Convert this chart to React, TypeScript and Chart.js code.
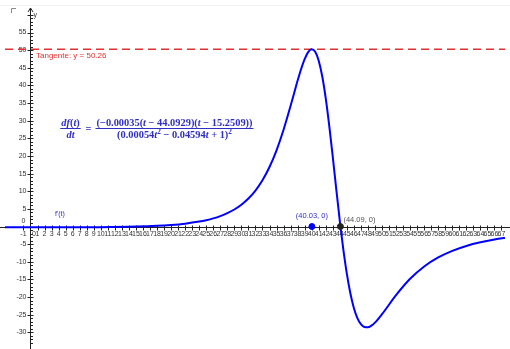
import React, { useEffect, useRef } from "react";
import { Chart, registerables } from "chart.js";

Chart.register(...registerables);

// ---- data ----
const tValues = [
  -4, 0, 5, 10, 15, 18, 20, 22, 24, 25, 26, 27, 28, 29, 30, 31, 32, 33, 34, 35, 36, 37, 37.5, 38, 38.5,
  39, 39.5, 40, 40.5, 41, 41.5, 42, 42.5, 43, 43.5, 44, 44.09, 44.5, 45, 45.5, 46, 46.5, 47, 47.5, 48,
  48.5, 49, 50, 52, 54, 56, 58, 60, 62, 64, 66, 68,
];
const derivValues = [
  -0.22, -0.23, -0.22, -0.17, -0.01, 0.2, 0.45, 0.82, 1.4, 1.8, 2.31, 2.96, 3.78, 4.83, 6.18, 7.93,
  10.2, 13.12, 16.87, 21.61, 27.44, 34.22, 37.81, 41.37, 44.67, 47.48, 49.46, 50.26, 49.54, 47.02,
  42.6, 36.34, 28.56, 19.75, 10.55, 1.59, 0, -6.48, -13.37, -18.92, -23.08, -25.95, -27.68, -28.49,
  -28.56, -28.09, -27.24, -24.86, -19.46, -14.82, -11.31, -8.75, -6.88, -5.5, -4.47, -3.69, -3.08,
];
const tangentY = 50.26;
const tangentLabel = "Tangente: y = 50.26";
const curveLabel = "f'(t)";
const pointXs = [40.03, 44.09];
const pointYs = [0, 0];
const pointLabels = ["(40.03, 0)", "(44.09, 0)"];
const xTickValues = [
  -1, 0, 1, 2, 3, 4, 5, 6, 7, 8, 9, 10, 11, 12, 13, 14, 15, 16, 17, 18, 19, 20, 21, 22, 23, 24, 25, 26,
  27, 28, 29, 30, 31, 32, 33, 34, 35, 36, 37, 38, 39, 40, 41, 42, 43, 44, 45, 46, 47, 48, 49, 50, 51,
  52, 53, 54, 55, 56, 57, 58, 59, 60, 61, 62, 63, 64, 65, 66, 67,
];
const yTickValues = [-30, -25, -20, -15, -10, -5, 0, 5, 10, 15, 20, 25, 30, 35, 40, 45, 50, 55];
const xMin = -3.626;
const xMax = 67.5;
const yMin = -33.3;
const yMax = 62.8;

const BLUE = "#0000ff";
const TEXT_BLUE = "#2f2fc4";
const RED = "#e03232";
const TICK_FONT = "7px 'Liberation Sans', Arial, sans-serif";
const SERIF = "'Liberation Serif', 'DejaVu Serif', serif";

type Seg = [string, boolean, boolean?]; // text, italic, superscript

function segWidth(ctx: CanvasRenderingContext2D, segs: Seg[], size: number) {
  let w = 0;
  for (const [t, it, sup] of segs) {
    const s = sup ? size * 0.7 : size;
    ctx.font = `${it ? "italic " : ""}bold ${s}px ${SERIF}`;
    w += ctx.measureText(t).width;
  }
  return w;
}

function drawSegs(ctx: CanvasRenderingContext2D, segs: Seg[], cx: number, y: number, size: number) {
  const w = segWidth(ctx, segs, size);
  let x = cx - w / 2;
  ctx.textAlign = "left";
  ctx.textBaseline = "alphabetic";
  for (const [t, it, sup] of segs) {
    const s = sup ? size * 0.7 : size;
    ctx.font = `${it ? "italic " : ""}bold ${s}px ${SERIF}`;
    ctx.fillText(t, x, sup ? y - size * 0.4 : y);
    x += ctx.measureText(t).width;
  }
  return w;
}

const axesPlugin = {
  id: "ggbAxes",
  beforeDatasetsDraw(chart: any) {
    const { ctx, width, height } = chart;
    const xs = chart.scales.x;
    const ys = chart.scales.y;
    const x0 = Math.round(xs.getPixelForValue(0)) + 0.5;
    const y0 = Math.round(ys.getPixelForValue(0)) + 0.5;
    ctx.save();
    // faint frame line at top
    ctx.strokeStyle = "#f2f2f2";
    ctx.lineWidth = 1;
    ctx.beginPath();
    ctx.moveTo(0, 5.5);
    ctx.lineTo(width, 5.5);
    ctx.stroke();
    // corner mark
    ctx.strokeStyle = "#8a8a8a";
    ctx.beginPath();
    ctx.moveTo(11.5, 13);
    ctx.lineTo(11.5, 8.5);
    ctx.lineTo(16, 8.5);
    ctx.stroke();
    // axes lines
    ctx.strokeStyle = "#222";
    ctx.beginPath();
    ctx.moveTo(0, y0);
    ctx.lineTo(width, y0);
    ctx.moveTo(x0, 8);
    ctx.lineTo(x0, height);
    ctx.stroke();
    // arrow of y axis
    ctx.beginPath();
    ctx.moveTo(x0 - 2.5, 12);
    ctx.lineTo(x0, 8);
    ctx.lineTo(x0 + 2.5, 12);
    ctx.stroke();
    // y ticks (minor every 1)
    for (let v = Math.ceil(yMin); v <= 60; v++) {
      const py = Math.round(ys.getPixelForValue(v)) + 0.5;
      ctx.beginPath();
      if (v % 5 === 0) {
        ctx.moveTo(x0 - 3, py);
        ctx.lineTo(x0 + 3, py);
      } else {
        ctx.moveTo(x0, py);
        ctx.lineTo(x0 + 2.5, py);
      }
      ctx.stroke();
    }
    // x ticks
    for (const v of xTickValues) {
      const px = Math.round(xs.getPixelForValue(v)) + 0.5;
      ctx.beginPath();
      ctx.moveTo(px, y0 - 2);
      ctx.lineTo(px, y0 + 3);
      ctx.stroke();
    }
    // labels
    ctx.fillStyle = "#333";
    ctx.font = TICK_FONT;
    ctx.textAlign = "right";
    ctx.textBaseline = "middle";
    for (const v of yTickValues) {
      const py = ys.getPixelForValue(v);
      if (v === 0) ctx.fillText("0", x0 - 5, py - 5);
      else ctx.fillText(String(v), x0 - 4, py);
    }
    ctx.textBaseline = "top";
    for (const v of xTickValues) {
      const px = xs.getPixelForValue(v);
      if (v === 0) {
        ctx.textAlign = "left";
        ctx.fillText("0", px + 1.5, y0 + 3);
      } else {
        ctx.textAlign = "center";
        ctx.fillText(String(v), px, y0 + 3);
      }
    }
    // axis name
    ctx.textAlign = "left";
    ctx.textBaseline = "middle";
    ctx.fillText("y", x0 + 3, 15);
    ctx.restore();
  },
  afterDatasetsDraw(chart: any) {
    const { ctx } = chart;
    const xs = chart.scales.x;
    const ys = chart.scales.y;
    ctx.save();
    // tangent label
    ctx.fillStyle = RED;
    ctx.font = "8px 'Liberation Sans', Arial, sans-serif";
    ctx.textAlign = "left";
    ctx.textBaseline = "middle";
    ctx.fillText(tangentLabel, 36, ys.getPixelForValue(tangentY) + 7);
    // curve label
    ctx.fillStyle = TEXT_BLUE;
    ctx.font = "7px 'Liberation Sans', Arial, sans-serif";
    ctx.fillText(curveLabel, 55, 214);
    // point labels
    ctx.font = "7.5px 'Liberation Sans', Arial, sans-serif";
    ctx.textAlign = "center";
    ctx.fillText(pointLabels[0], xs.getPixelForValue(pointXs[0]), ys.getPixelForValue(pointYs[0]) - 11);
    ctx.fillStyle = "#555";
    ctx.textAlign = "left";
    ctx.fillText(pointLabels[1], xs.getPixelForValue(pointXs[1]) + 3, ys.getPixelForValue(pointYs[1]) - 7);
    // formula
    ctx.fillStyle = TEXT_BLUE;
    ctx.strokeStyle = TEXT_BLUE;
    const size = 10.4;
    const barY = 128.5;
    const lw = drawSegs(ctx, [["d", true], ["f", true], ["(", false], ["t", true], [")", false]], 70.5, barY - 3, size);
    drawSegs(ctx, [["d", true], ["t", true]], 70.5, barY + 9.5, size);
    ctx.lineWidth = 1;
    ctx.beginPath();
    ctx.moveTo(70.5 - lw / 2 - 1, barY);
    ctx.lineTo(70.5 + lw / 2 + 1, barY);
    ctx.stroke();
    drawSegs(ctx, [["=", false]], 88.5, barY + 3, size);
    const numSegs: Seg[] = [
      ["(−0.00035(", false], ["t", true], [" − 44.0929)(", false], ["t", true], [" − 15.2509))", false],
    ];
    const denSegs: Seg[] = [
      ["(0.00054", false], ["t", true], ["2", false, true], [" − 0.04594", false], ["t", true],
      [" + 1)", false], ["2", false, true],
    ];
    const cx = 174.5;
    const nw = drawSegs(ctx, numSegs, cx, barY - 3, size);
    drawSegs(ctx, denSegs, cx, barY + 9.5, size);
    ctx.beginPath();
    ctx.moveTo(cx - nw / 2 - 1, barY);
    ctx.lineTo(cx + nw / 2 + 1, barY);
    ctx.stroke();
    ctx.restore();
  },
};

export default function App() {
  const ref = useRef<HTMLCanvasElement | null>(null);
  useEffect(() => {
    if (!ref.current) return;
    const curve = tValues.map((t, i) => ({ x: t, y: derivValues[i] }));
    const chart = new Chart(ref.current, {
      type: "scatter",
      data: {
        datasets: [
          {
            data: [{ x: pointXs[0], y: pointYs[0] }],
            backgroundColor: BLUE,
            borderColor: BLUE,
            pointRadius: 3,
            order: 0,
          },
          {
            data: [{ x: pointXs[1], y: pointYs[1] }],
            backgroundColor: "#222",
            borderColor: "#222",
            pointRadius: 3,
            order: 1,
          },
          {
            data: curve,
            showLine: true,
            borderColor: BLUE,
            borderWidth: 2,
            pointRadius: 0,
            cubicInterpolationMode: "monotone",
            order: 2,
          },
          {
            data: [
              { x: xMin, y: tangentY },
              { x: xMax, y: tangentY },
            ],
            showLine: true,
            borderColor: RED,
            borderWidth: 1.5,
            borderDash: [8, 5],
            pointRadius: 0,
            order: 3,
          },
        ],
      } as any,
      options: {
        animation: false,
        responsive: false,
        devicePixelRatio: 1,
        layout: { padding: 0 },
        plugins: { legend: { display: false }, tooltip: { enabled: false } },
        events: [],
        scales: {
          x: { type: "linear", min: xMin, max: xMax, display: false },
          y: { type: "linear", min: yMin, max: yMax, display: false },
        },
      } as any,
      plugins: [axesPlugin],
    });
    return () => chart.destroy();
  }, []);
  return (
    <div style={{ position: "fixed", left: 0, top: 0, width: 510, height: 349, background: "#fff" }}>
      <canvas ref={ref} width={510} height={349} style={{ width: 510, height: 349, display: "block" }} />
    </div>
  );
}
